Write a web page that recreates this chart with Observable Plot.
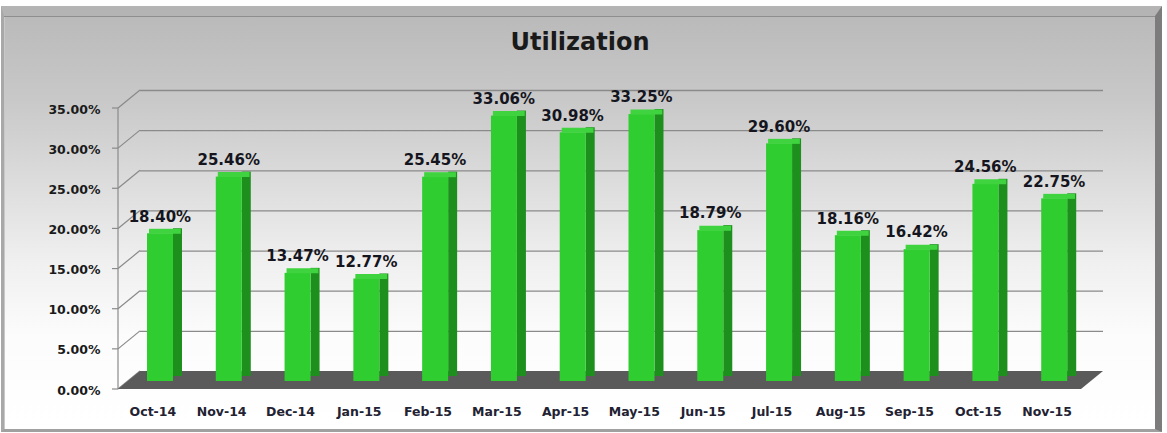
<!DOCTYPE html>
<html>
<head>
<meta charset="utf-8">
<script src="https://cdn.jsdelivr.net/npm/d3@7"></script>
<script src="https://cdn.jsdelivr.net/npm/@observablehq/plot@0.6"></script>
<style>
  html, body { margin: 0; padding: 0; background: #fff; }
  #wrap { position: relative; width: 1167px; height: 433px; overflow: hidden; background: #fff; }
  #frame {
    position: absolute; left: 1px; top: 6px; width: 1161px; height: 426px; box-sizing: border-box;
    border-style: solid; border-width: 10px 7px 3px 3px;
    border-color: #b4b4b4 #7c7c7c #a0a0a0 #a8a8a8;
    box-shadow: inset 0 1px 0 #8e8e8e, inset 1px 0 0 #c8c8c8;
    background: linear-gradient(to bottom, #bababa 0%, #c8c8c8 20%, #dcdcdc 40%, #f0f0f0 60%, #fcfcfc 78%, #ffffff 100%);
  }
  #title {
    position: absolute; left: 0; width: 1160px; top: 28px; line-height: 28px; text-align: center;
    font-family: "DejaVu Sans", sans-serif; font-weight: bold; font-size: 24px; color: #1a1a1a;
  }
  #chart { position: absolute; left: 0; top: 0; }
</style>
</head>
<body>
<div id="wrap">
  <div id="frame"></div>
  <div id="title">Utilization</div>
  <div id="chart"></div>
</div>
<script>
const months = ["Oct-14","Nov-14","Dec-14","Jan-15","Feb-15","Mar-15","Apr-15","May-15","Jun-15","Jul-15","Aug-15","Sep-15","Oct-15","Nov-15"];
const utilization = [18.40, 25.46, 13.47, 12.77, 25.45, 33.06, 30.98, 33.25, 18.79, 29.60, 18.16, 16.42, 24.56, 22.75];
const yTicks = [0, 5, 10, 15, 20, 25, 30, 35];

const data = months.map((m, i) => ({month: m, value: utilization[i]}));

// depth of the pseudo-3D box (front plane vs back wall), in pixels
const DX = 22, DY = 18;
const BAR_DY = 10;

const plot = Plot.plot({
  width: 1167,
  height: 433,
  marginLeft: 118,
  marginRight: 86,
  marginTop: 90,
  marginBottom: 62,
  style: {background: "transparent", overflow: "visible"},
  x: {type: "band", domain: months, paddingInner: 0, paddingOuter: 0, round: false, axis: null},
  y: {domain: [0, 35], axis: null},
  marks: [
    // back-wall gridlines
    Plot.ruleY(yTicks.filter(d => d > 0), {dx: DX, stroke: "#8a8a8a", strokeWidth: 1.3}),
    // bar side faces
    Plot.barY(data, {x: "month", y: "value", fill: "#1c8f1c", insetLeft: 55, insetRight: 4.8, dy: BAR_DY - 5}),
    // bar front faces
    Plot.barY(data, {x: "month", y: "value", fill: "#30cd30", insetLeft: 29, insetRight: 13.8, dy: BAR_DY}),
    // bar top caps
    Plot.tickY(data, {x: "month", y: "value", stroke: "#3fd43f", strokeWidth: 5, insetLeft: 31, insetRight: 6, dy: BAR_DY - 2.5}),
    // value labels
    Plot.text(data, {x: "month", y: "value", text: d => d.value.toFixed(2) + "%", dx: 7, dy: -7,
      fontFamily: "DejaVu Sans", fontWeight: "bold", fontSize: 15, fill: "#151520", lineAnchor: "middle"}),
    // y tick labels (front plane)
    Plot.text(yTicks, {y: d => d, text: d => d.toFixed(2) + "%", frameAnchor: "left", textAnchor: "end",
      dx: -18, dy: DY + 1, fontFamily: "DejaVu Sans", fontWeight: "bold", fontSize: 12.5, fill: "#1a1a1a", lineAnchor: "middle"}),
    // x labels
    Plot.text(months, {x: d => d, text: d => d, frameAnchor: "bottom", dy: 40,
      fontFamily: "DejaVu Sans", fontWeight: "bold", fontSize: 12.5, fill: "#222233", lineAnchor: "middle"})
  ]
});

document.getElementById("chart").appendChild(plot);

// chrome: left wall lines and floor, drawn from Plot's own scales
const sx = plot.scale("x"), sy = plot.scale("y");
const [x0, x1] = sx.range;
const y0 = sy.apply(0);
const ruleG = plot.querySelector('g[aria-label="rule"]');
const deco = document.createElementNS("http://www.w3.org/2000/svg", "g");
ruleG.after(deco);
const g = d3.select(deco);
// front vertical axis line
g.append("line").attr("x1", x0).attr("x2", x0)
  .attr("y1", sy.apply(35) + DY).attr("y2", y0 + DY)
  .attr("stroke", "#8a8a8a").attr("stroke-width", 1.2);
yTicks.forEach(t => {
  const yy = sy.apply(t);
  g.append("line").attr("x1", x0).attr("y1", yy + DY).attr("x2", x0 + DX).attr("y2", yy)
    .attr("stroke", "#8a8a8a").attr("stroke-width", 1.2);
  g.append("line").attr("x1", x0 - 6).attr("y1", yy + DY).attr("x2", x0).attr("y2", yy + DY)
    .attr("stroke", "#8a8a8a").attr("stroke-width", 1.2);
});
// floor
g.append("path")
  .attr("d", `M${x0},${y0 + DY}L${x1},${y0 + DY}L${x1 + DX},${y0}L${x0 + DX},${y0}Z`)
  .attr("fill", "#5a5a5a");
</script>
</body>
</html>
